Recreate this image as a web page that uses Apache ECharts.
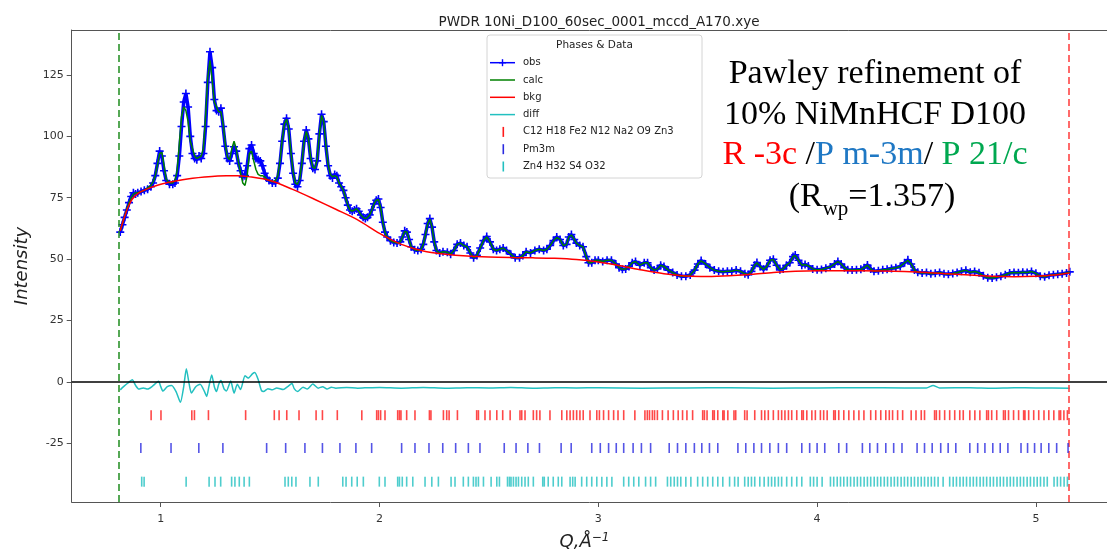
<!DOCTYPE html>
<html><head><meta charset="utf-8">
<script src="https://cdn.jsdelivr.net/npm/echarts@6/dist/echarts.min.js"></script>
<style>html,body{margin:0;padding:0;background:#fff}#c{width:1107px;height:551px}</style>
</head><body><div id="c"></div>
<script>
// ---------- data ----------
const chartTitle = 'PWDR 10Ni_D100_60sec_0001_mccd_A170.xye';
const xTicks = [1, 2, 3, 4, 5];
const yTicks = [-25, 0, 25, 50, 75, 100, 125];
const limits = [0.81, 5.152];
const tickLevels = [-13.6, -27.0, -40.7];

const q = [
0.815,0.825,0.835,0.845,0.855,0.865,0.875,0.885,0.895,0.91,
0.925,0.94,0.955,0.965,0.975,0.985,0.995,1.005,1.015,1.025,
1.04,1.055,1.065,1.075,1.085,1.095,1.105,1.115,1.125,1.135,
1.145,1.155,1.165,1.175,1.185,1.195,1.205,1.215,1.225,1.235,
1.245,1.255,1.265,1.275,1.285,1.295,1.305,1.315,1.325,1.335,
1.345,1.355,1.365,1.375,1.385,1.395,1.405,1.415,1.425,1.435,
1.445,1.455,1.465,1.475,1.485,1.495,1.51,1.525,1.535,1.545,
1.555,1.565,1.575,1.585,1.595,1.605,1.615,1.625,1.635,1.645,
1.655,1.665,1.675,1.685,1.695,1.705,1.715,1.725,1.735,1.745,
1.755,1.765,1.775,1.785,1.795,1.805,1.815,1.825,1.835,1.845,
1.855,1.865,1.875,1.885,1.895,1.905,1.915,1.925,1.935,1.945,
1.955,1.965,1.975,1.985,1.995,2.005,2.015,2.025,2.035,2.05,
2.065,2.08,2.095,2.105,2.115,2.125,2.135,2.145,2.16,2.175,
2.19,2.2,2.21,2.22,2.23,2.24,2.25,2.26,2.275,2.29,
2.31,2.325,2.34,2.355,2.37,2.385,2.4,2.415,2.43,2.445,
2.46,2.475,2.49,2.505,2.52,2.535,2.55,2.565,2.58,2.6,
2.62,2.64,2.655,2.67,2.69,2.71,2.73,2.75,2.765,2.78,
2.795,2.81,2.825,2.84,2.855,2.865,2.877,2.89,2.9,2.915,
2.93,2.945,2.955,2.97,2.985,3.0,3.02,3.04,3.06,3.08,
3.095,3.11,3.125,3.14,3.155,3.17,3.19,3.21,3.225,3.24,
3.255,3.27,3.285,3.3,3.32,3.34,3.36,3.38,3.4,3.42,
3.44,3.455,3.47,3.49,3.51,3.53,3.55,3.57,3.59,3.61,
3.63,3.65,3.67,3.685,3.7,3.715,3.725,3.74,3.755,3.77,
3.785,3.8,3.815,3.83,3.845,3.86,3.875,3.89,3.9,3.915,
3.93,3.945,3.96,3.98,4.0,4.02,4.04,4.06,4.08,4.095,
4.11,4.125,4.14,4.16,4.18,4.2,4.215,4.23,4.245,4.26,
4.28,4.3,4.32,4.34,4.36,4.38,4.4,4.415,4.43,4.445,
4.46,4.48,4.5,4.52,4.54,4.56,4.58,4.6,4.62,4.64,
4.66,4.68,4.7,4.72,4.74,4.76,4.78,4.8,4.82,4.84,
4.86,4.88,4.9,4.92,4.94,4.96,4.98,5.0,5.02,5.04,
5.06,5.08,5.1,5.12,5.14,5.155];

const obs = [
61,64,67,70,73,75.5,77,76.5,77,77.5,
78,78.5,79.5,81,84,89,94,92,86,82,
80.5,80.5,81,84,92,104,114,117.5,112,100,
93,91,90.5,92,91,93,104,122,134.5,128,
115,110.5,110,111.5,104,96,91,90,93,95.8,
94,89,86,83.5,84,88,95,96.5,93,91,
90.5,90,88,85,83,82,81,81,83,89,
98,105,107.4,103,93,85,80.5,79.5,82,89,
98,102.6,99,91,87,86.5,90,101,109,106,
96,88,84,83,84.5,84,81,79.5,78,75,
72,70,69.5,70,70.5,69.5,68,67,66.5,67,
68,70,72.5,74,74.5,71,65,61,59,57.5,
56.8,56.5,57,59,61.5,61,58,55,53.8,53.5,
54,56,60,64.5,66.5,63,57,53.5,52.5,53,
52.8,52,53.5,56,56.5,55.5,55,52.5,50.5,51.5,
54.5,57.5,59.2,57,54,53.5,54,54.5,53.5,52,
50.5,50.5,51.5,53,52.5,53.5,54,53.5,54,55.5,
57.5,59,58,55.5,56,59,60,58,56.5,55.5,
55,51,48.5,48.5,49.5,49.5,49,49.5,49.5,48,
46.5,45.8,46,47,48.5,49,47.5,48.5,48.5,46.5,
45.5,46,47.5,47,45.5,44.5,43.5,43,43,43.5,
45.5,48,49.4,48,46.5,45.5,45,44.8,45,45,
45.5,45,44,43.6,45,47.5,48.6,47,45.8,47,
49.5,49.9,47.5,45.6,46,47.5,48.5,51,51.7,49.5,
47.5,47.8,47.2,46,45.6,45.7,46.3,46.8,48,49,
48,46.5,45.6,45.5,45.6,45.8,46.5,47.6,46,45,
45.2,45.6,45.8,46.2,46.5,47,48.5,49.7,48,45.5,
44.6,44.3,44.5,44,44.2,44.5,44,43.8,44.1,44.5,
45,45.4,44.6,44.9,44.4,43.2,42.4,42.3,42.6,43,
43.6,44.3,44.5,44.4,44.6,44.5,44.9,44.2,43,42.8,
43.4,43.6,43.8,44,44.3,44.8];

const calc = [
61.5,64.5,67.5,70.5,73,75,76.5,77,77,77.5,
78,79,80,81.5,84,88.5,93,93.5,88,82.5,
81,81,82,86,97,108,112,110.5,106,98,
95,92,91,91.5,92,95,108,124,131,123,
114,112,110,110,105,97,91.5,90.5,95,98,
95,89.5,85,81,80,84,93,94,90,86.5,
84.5,84,84,83.5,82.5,82,81.5,82,84,90,
98.5,105,107,103,93.5,85.5,81,80.5,82.5,89,
98,102,99,91.5,87.5,87,90.5,101,108.5,106,
96.5,88.5,84.5,83.5,84,83.5,81,79.5,78,75,
72,70,69.5,70,70.5,69.5,68,67,66.5,67,
68,70,72.5,74,74.3,71,65,61,59,57.5,
56.8,56.5,57,59,61.3,61,58,55,53.8,53.5,
54,56,60,64.3,66.3,63,57,53.5,52.5,53,
52.8,52,53.5,56,56.5,55.5,55,52.5,50.5,51.5,
54.5,57.5,59,57,54,53.5,54,54.5,53.5,52,
50.5,50.5,51.5,53,52.5,53.5,54,53.5,54,55.5,
57.5,58.8,58,55.5,56,59,59.8,58,56.5,55.5,
55,51,48.5,48.5,49.5,49.5,49,49.5,49.5,48,
46.5,45.8,46,47,48.5,49,47.5,48.5,48.5,46.5,
45.5,46,47.5,47,45.5,44.5,43.5,43,43,43.5,
45.5,48,49.3,48,46.5,45.5,45,44.8,45,45,
45.5,45,44,43.6,45,47.5,48.5,47,45.8,47,
49.5,49.8,47.5,45.6,46,47.5,48.5,51,51.5,49.5,
47.5,47.8,47.2,46,45.6,45.7,46.3,46.8,48,49,
48,46.5,45.6,45.5,45.6,45.8,46.5,47.5,46,45,
45.2,45.6,45.8,46.2,46.5,47,48.5,49.5,48,45.5,
44.6,44.3,44.5,44,44.2,44.5,44,43.8,44.1,44.5,
45,45.4,44.6,44.9,44.4,43.2,42.4,42.3,42.6,43,
43.6,44.3,44.5,44.4,44.6,44.5,44.9,44.2,43,42.8,
43.4,43.6,43.8,44,44.3,44.8];

const bkgQ = [0.815,0.83,0.85,0.87,0.9,0.95,1.0,1.1,1.2,1.3,1.35,1.4,1.5,1.6,1.7,1.8,1.9,2.0,2.1,2.2,
2.3,2.4,2.5,2.6,2.7,2.8,2.9,3.0,3.1,3.2,3.3,3.4,3.5,3.6,3.7,3.8,3.9,4.0,4.2,4.4,4.6,4.8,4.9,5.0,5.1,5.155];
const bkg = [61.5,66,71,74.5,77,79,80.5,82.3,83.4,84,84,83.6,82,78.5,74.5,70.3,66,60.5,56,53.3,
52,51.2,50.8,50.6,50.5,50.3,49.8,48.8,47.3,45.5,44,43.1,42.9,43.2,43.8,44.5,45,45.2,45.2,44.9,44,43,42.8,43,43.6,44.3];

const diffQ = [0.815,0.83,0.85,0.87,0.885,0.9,0.92,0.94,0.96,0.99,1.0,1.01,1.03,1.05,1.07,1.09,1.105,1.117,1.13,1.14,
1.16,1.18,1.2,1.21,1.22,1.233,1.245,1.255,1.265,1.275,1.29,1.3,1.32,1.335,1.35,1.365,1.385,1.4,1.42,1.43,
1.445,1.46,1.47,1.49,1.51,1.53,1.56,1.58,1.6,1.61,1.625,1.65,1.67,1.695,1.72,1.74,1.76,1.78,1.8,1.85,
1.9,1.95,2.0,2.1,2.2,2.3,2.4,2.5,2.6,2.7,2.8,2.9,3.0,3.2,3.4,3.6,3.8,4.0,4.2,4.4,
4.5,4.53,4.56,4.7,4.8,4.9,5.0,5.155];
const diff = [-3.3,-2,-0.5,0.8,-1.5,-3,-2.5,-3,-2,0.2,-2,-3.8,-2,-1.5,-4,-8.4,-2,5.3,-1,-4.6,
-2,-1,-4,-6,-2,2.8,-2,-4,-1,0.5,-3,-3.8,0.3,-4.6,-1,-3.2,2.5,1.5,3.3,3.8,
1,-3.5,-4,-2.8,-3.3,-2.5,-3.2,-2,-0.7,-2.8,-4,-2.2,-3,-0.9,-2.6,-2,-3,-2.2,-2.6,-2.3,
-2.6,-2.4,-2.3,-2.6,-2.3,-2.6,-2.4,-2.5,-2.3,-2.6,-2.4,-2.5,-2.4,-2.6,-2.5,-2.4,-2.6,-2.5,-2.4,-2.5,
-2.5,-1.5,-2.5,-2.4,-2.6,-2.4,-2.5,-2.6];

// reflection positions (Q)
const reflR = [0.956,1.001,1.142,1.154,1.218,1.388,1.519,1.541,1.576,1.632,1.710,1.739,1.807,1.919,1.987,1.995,2.005,2.025,
2.083,2.091,2.098,2.124,2.162,2.228,2.235,2.292,2.307,2.318,2.356,2.444,2.452,2.482,2.505,2.536,2.563,2.597,2.642,2.650,
2.665,2.703,2.718,2.733,2.779,2.833,2.856,2.871,2.886,2.901,2.916,2.931,2.962,2.993,3.005,3.024,3.047,3.070,3.090,3.116,
3.167,3.213,3.224,3.234,3.247,3.257,3.270,3.293,3.319,3.343,3.365,3.385,3.405,3.431,3.477,3.485,3.497,3.523,3.530,3.546,
3.569,3.575,3.592,3.620,3.628,3.669,3.680,3.715,3.746,3.761,3.777,3.800,3.823,3.838,3.853,3.869,3.884,3.907,3.930,3.937,
3.953,3.976,3.992,4.015,4.030,4.046,4.076,4.083,4.099,4.122,4.145,4.168,4.191,4.214,4.245,4.268,4.291,4.314,4.330,4.345,
4.368,4.391,4.430,4.452,4.476,4.491,4.537,4.545,4.560,4.583,4.606,4.629,4.652,4.668,4.698,4.721,4.744,4.775,4.783,4.798,
4.821,4.852,4.860,4.875,4.898,4.921,4.944,4.950,4.967,4.990,5.013,5.037,5.059,5.082,5.106,5.113,5.128,5.144];
const reflB = [0.909,1.047,1.174,1.284,1.484,1.571,1.659,1.739,1.819,1.892,1.964,2.101,2.162,2.226,2.289,2.348,2.406,2.459,
2.570,2.624,2.678,2.731,2.830,2.876,2.970,3.009,3.047,3.082,3.116,3.159,3.197,3.239,3.324,3.362,3.400,3.439,3.473,3.508,
3.546,3.638,3.674,3.711,3.746,3.784,3.823,3.861,3.930,3.966,4.000,4.035,4.099,4.135,4.207,4.241,4.276,4.314,4.350,4.388,
4.457,4.491,4.526,4.565,4.599,4.634,4.698,4.734,4.767,4.803,4.837,4.872,4.932,4.962,4.994,5.024,5.059,5.095,5.147];
const reflC = [0.913,0.924,1.116,1.221,1.248,1.274,1.324,1.339,1.359,1.381,1.405,1.568,1.583,1.599,1.618,1.682,1.720,1.832,
1.847,1.873,1.898,1.926,1.999,2.025,2.083,2.091,2.104,2.124,2.152,2.208,2.239,2.269,2.327,2.345,2.383,2.406,2.429,2.441,
2.452,2.475,2.510,2.536,2.548,2.585,2.594,2.601,2.612,2.624,2.635,2.650,2.665,2.680,2.703,2.746,2.753,2.771,2.794,2.817,
2.833,2.871,2.883,2.894,2.924,2.947,2.970,2.993,3.016,3.039,3.062,3.116,3.139,3.162,3.185,3.216,3.239,3.262,3.316,3.331,
3.347,3.362,3.377,3.400,3.423,3.454,3.477,3.500,3.523,3.546,3.569,3.600,3.623,3.639,3.669,3.685,3.700,3.715,3.738,3.758,
3.777,3.792,3.807,3.823,3.838,3.861,3.884,3.907,3.930,3.969,3.984,4.000,4.023,4.061,4.076,4.092,4.107,4.122,4.138,4.153,
4.169,4.184,4.199,4.215,4.230,4.245,4.261,4.276,4.291,4.307,4.322,4.338,4.353,4.368,4.384,4.399,4.414,4.430,4.445,4.461,
4.476,4.491,4.507,4.522,4.537,4.553,4.576,4.606,4.622,4.637,4.653,4.668,4.683,4.699,4.714,4.729,4.745,4.760,4.775,4.791,
4.806,4.822,4.837,4.852,4.868,4.883,4.898,4.914,4.929,4.944,4.960,4.975,4.991,5.006,5.021,5.037,5.052,5.083,5.098,5.113,
5.129,5.144];

const legendNames = ['obs', 'calc', 'bkg', 'diff', 'C12 H18 Fe2 N12 Na2 O9 Zn3', 'Pm3m', 'Zn4 H32 S4 O32'];
const annotLines = ['Pawley refinement of', '10% NiMnHCF D100'];

// ---------- styles ----------
const C = {obs:'#0000ff', calc:'#008000', bkg:'#ff0000', diff:'#22c0c0',
  tR:'#ff1a1a', tB:'#2a2ae0', tC:'#22c0c0', limL:'#1e8c1e', limR:'#ff3a3a'};
const plus = 'path://M4,0L6,0L6,4L10,4L10,6L6,6L6,10L4,10L4,6L0,6L0,4L4,4Z';
const pairs = (xs, ys) => xs.map((x, i) => [x, ys[i]]);
const ticksAt = (xs, lv) => xs.map(x => [x, lv]);
const FONT = 'DejaVu Sans';

// legend graphic
const lg = [];
const lx = 487, ly = 35, lw = 215, lh = 143, rowY0 = 62.7, rowDy = 17.3;
lg.push({type:'rect', shape:{x:lx, y:ly, width:lw, height:lh, r:3},
  style:{fill:'rgba(255,255,255,0.9)', stroke:'#d4d4d4', lineWidth:1}, z:100});
lg.push({type:'text', x:lx + lw/2, y:45, z:101,
  style:{text:'Phases & Data', fontSize:10.5, fontFamily:FONT, fill:'#222', align:'center', verticalAlign:'middle', textAlign:'center', textVerticalAlign:'middle'}});
const rowColors = [C.obs, C.calc, C.bkg, C.diff, C.tR, C.tB, C.tC];
legendNames.forEach((n, i) => {
  const yy = rowY0 + i * rowDy;
  if (i < 4) {
    lg.push({type:'line', shape:{x1:490, y1:yy, x2:515, y2:yy}, style:{stroke:rowColors[i], lineWidth:1.5}, z:101});
    if (i === 0) {
      lg.push({type:'rect', shape:{x:501.8, y:yy-3.5, width:1.4, height:7}, style:{fill:rowColors[i]}, z:102});
      lg.push({type:'rect', shape:{x:499, y:yy-0.7, width:7, height:1.4}, style:{fill:rowColors[i]}, z:102});
    }
  } else {
    lg.push({type:'rect', shape:{x:502.5, y:yy-5, width:1.6, height:10}, style:{fill:rowColors[i]}, z:101});
  }
  lg.push({type:'text', x:523, y:yy, z:101,
    style:{text:n, fontSize:10, fontFamily:FONT, fill:'#222', align:'left', verticalAlign:'middle', textAlign:'left', textVerticalAlign:'middle'}});
});

// annotation graphic
const SERIF = '"Liberation Serif", "Times New Roman", serif';
const ann = [];
const annX = 875, annFs = 34;
const annMid = [74, 115, 155];
annotLines.forEach((t, i) => ann.push({type:'text', x:annX, y:annMid[i], z:90,
  style:{text:t, fontSize:annFs, fontFamily:SERIF, fill:'#000', align:'center', verticalAlign:'middle', textAlign:'center', textVerticalAlign:'middle'}}));
ann.push({type:'text', x:annX, y:annMid[2], z:90,
  style:{text:'{r|R -3c} /{b|P m-3m}/ {g|P 21/c}', fontSize:annFs, fontFamily:SERIF, fill:'#000',
    align:'center', verticalAlign:'middle', textAlign:'center', textVerticalAlign:'middle',
    rich:{r:{fill:'#ff0000', fontSize:annFs, fontFamily:SERIF},
          b:{fill:'#1f78c4', fontSize:annFs, fontFamily:SERIF},
          g:{fill:'#00a850', fontSize:annFs, fontFamily:SERIF}}}});
ann.push({type:'text', x:872, y:197, z:90,
  style:{text:'{m|(R}{s|wp}{m|=1.357)}', fontSize:annFs, fontFamily:SERIF, fill:'#000',
    align:'center', verticalAlign:'middle', textAlign:'center', textVerticalAlign:'middle',
    rich:{m:{fontSize:annFs, lineHeight:46, fontFamily:SERIF},
          s:{fontSize:21, lineHeight:21, verticalAlign:'bottom', fontFamily:SERIF}}}});

const X_MIN = 0.593, X_MAX = 5.4;
const chart = echarts.init(document.getElementById('c'), null, {renderer:'canvas'});
chart.setOption({
  animation:false,
  backgroundColor:'#fff',
  title:{text:chartTitle, left:594, top:10, textAlign:'center',
    textStyle:{fontFamily:FONT, fontSize:13.5, fontWeight:'normal', color:'#222'}},
  grid:{left:71.7, top:30, width:1051.7, height:472, show:false, containLabel:false, outerBoundsMode:'none'},
  xAxis:[{type:'value', min:X_MIN, max:X_MAX,
    axisLine:{show:true, onZero:false, lineStyle:{color:'#555', width:1}},
    axisTick:{show:true, length:5, lineStyle:{color:'#555'}, customValues:xTicks},
    axisLabel:{customValues:xTicks, fontFamily:FONT, fontSize:11, color:'#333', margin:12},
    splitLine:{show:false},
    name:'Q,Å{sup|−1}', nameLocation:'middle', nameGap:30,
    nameTextStyle:{fontFamily:FONT, fontSize:18, fontStyle:'italic', color:'#222', padding:[0,26,0,0],
      rich:{sup:{fontFamily:FONT, fontSize:12, fontStyle:'italic', color:'#222', verticalAlign:'top', padding:[0,0,8,0]}}}},
    {type:'value', position:'top', min:X_MIN, max:X_MAX,
      axisLine:{show:true, onZero:false, lineStyle:{color:'#555', width:1}},
      axisTick:{show:false}, axisLabel:{show:false}, splitLine:{show:false}}],
  yAxis:{type:'value', min:-49, max:143.35,
    axisLine:{show:true, onZero:false, lineStyle:{color:'#555', width:1}},
    axisTick:{show:true, length:5, lineStyle:{color:'#555'}, customValues:yTicks},
    axisLabel:{customValues:yTicks, fontFamily:FONT, fontSize:11, color:'#333', margin:8},
    splitLine:{show:false},
    name:'Intensity', nameLocation:'middle', nameGap:40,
    nameTextStyle:{fontFamily:FONT, fontSize:18, fontStyle:'italic', color:'#222'}},
  graphic:lg.concat(ann),
  series:[
    {name:'obs', type:'line', data:pairs(q, obs), symbol:plus, symbolSize:8, showAllSymbol:true,
      itemStyle:{color:C.obs}, lineStyle:{color:C.obs, width:3.5}, z:2, silent:true},
    {name:'calc', type:'line', data:pairs(q, calc), symbol:'none',
      lineStyle:{color:C.calc, width:1.5}, z:3, silent:true},
    {name:'bkg', type:'line', data:pairs(bkgQ, bkg), symbol:'none', smooth:0.3,
      lineStyle:{color:C.bkg, width:1.5}, z:4, silent:true},
    {name:'diff', type:'line', data:pairs(diffQ, diff), symbol:'none', smooth:0.2,
      lineStyle:{color:C.diff, width:1.5}, z:4, silent:true,
      markLine:{silent:true, symbol:['none','none'], label:{show:false}, animation:false,
        data:[
          {xAxis:limits[0], lineStyle:{color:C.limL, type:[7,4], width:1.5}},
          {xAxis:limits[1], lineStyle:{color:C.limR, type:[7,4], width:1.5}},
          {yAxis:0, lineStyle:{color:'#000', type:'solid', width:1.5}}
        ]}},
    {name:'R-3c', type:'scatter', data:ticksAt(reflR, tickLevels[0]), symbol:'rect', symbolSize:[1.6,10],
      itemStyle:{color:C.tR}, z:5, silent:true},
    {name:'Pm3m', type:'scatter', data:ticksAt(reflB, tickLevels[1]), symbol:'rect', symbolSize:[1.6,10],
      itemStyle:{color:C.tB}, z:5, silent:true},
    {name:'P21/c', type:'scatter', data:ticksAt(reflC, tickLevels[2]), symbol:'rect', symbolSize:[1.6,10],
      itemStyle:{color:C.tC}, z:5, silent:true}
  ]
});
</script></body></html>
